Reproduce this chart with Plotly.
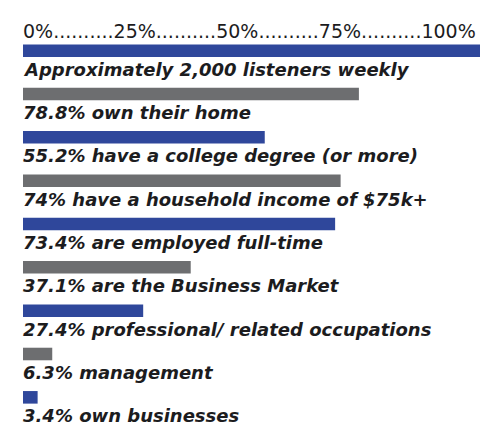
import plotly.graph_objects as go

# bar lengths (percent of full width)
values = [100, 73.5, 52.9, 69.5, 68.3, 36.7, 26.3, 6.4, 3.2]
labels = [
    "Approximately 2,000 listeners weekly",
    "78.8% own their home",
    "55.2% have a college degree (or more)",
    "74% have a household income of $75k+",
    "73.4% are employed full-time",
    "37.1% are the Business Market",
    "27.4% professional/ related occupations",
    "6.3% management",
    "3.4% own businesses",
]
scale_labels = ["0%", "25%", "50%", "75%", "100%"]

BLUE = "#2f479b"
GRAY = "#6d6e70"
TEXT = "#1c1c1e"

rows = list(range(len(values)))
colors = [BLUE if i % 2 == 0 else GRAY for i in rows]

fig = go.Figure()
fig.add_trace(go.Bar(
    x=values, y=rows, orientation="h",
    marker=dict(color=colors, line=dict(width=0)),
    width=0.29, hoverinfo="skip",
))

for i, lab in zip(rows, labels):
    fig.add_annotation(
        x=0, y=i, xref="x", yref="y", text="<b><i>" + lab + "</i></b>",
        showarrow=False, xanchor="left", yanchor="middle", yshift=-18.5, xshift=-2,
        font=dict(family="DejaVu Sans", size=18, color=TEXT),
    )

dots = ".........."
fig.add_annotation(
    x=0, y=1, xref="x", yref="paper", text=dots.join(scale_labels),
    showarrow=False, xanchor="left", yanchor="bottom", yshift=-15, xshift=-2,
    font=dict(family="DejaVu Sans", size=19, color=TEXT),
)

# page body has an 8px margin, so the figure is shrunk by that much
fig.update_layout(
    width=493, height=437,
    margin=dict(l=15, r=21, t=21, b=26),
    paper_bgcolor="white", plot_bgcolor="white",
    showlegend=False,
    xaxis=dict(range=[0, 100], visible=False, fixedrange=True),
    yaxis=dict(range=[8.5, -0.5], visible=False, fixedrange=True),
)

fig.write_html("out.html")
